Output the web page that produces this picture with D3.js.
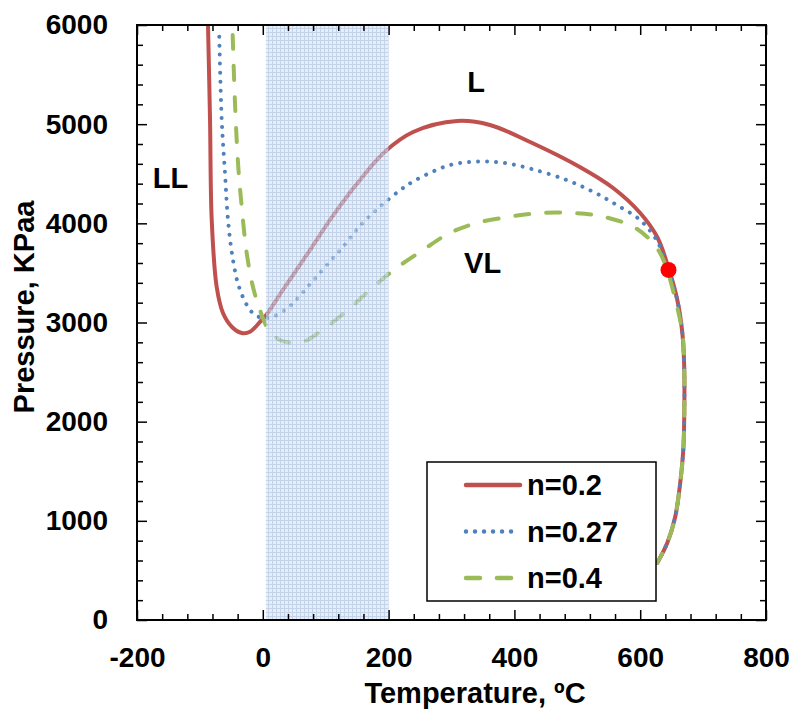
<!DOCTYPE html>
<html>
<head>
<meta charset="utf-8">
<script src="https://cdn.jsdelivr.net/npm/d3@7"></script>
<style>
  body { margin: 0; background: #fff; }
  text { font-family: "Liberation Sans", Arial, sans-serif; font-weight: bold; fill: #000; }
</style>
</head>
<body>
<div id="chart"></div>
<script>
// values
var seriesNames = ["n=0.2", "n=0.27", "n=0.4"];

var tempRed = [-87.1, -83.9, -81.2, -73.3, -63.3, -49, -33.5, -20.3, -1.7, 3.5, 32, 75, 113, 154.5, 194, 239, 309, 361, 425, 504, 557, 600, 627, 644.5, 659, 667, 670, 670, 668.5, 663.6, 655.6, 643, 627];
var presRed = [6000, 5042, 4034, 3358, 3096, 2955, 2894, 2907, 3025, 3058, 3328, 3731, 4090, 4437, 4722, 4921, 5032, 4992, 4820, 4568, 4356, 4104, 3862, 3560, 3227, 2894, 2551, 2047, 1714, 1381, 1039, 776, 575];

var tempBlue = [-69.2, -65.3, -60.1, -55.3, -47.4, -37.8, -23.5, -12.4, 0.3, 14.1, 40, 69.8, 98.9, 127.5, 154.5, 186.3, 220.8, 244.7, 297.6, 340, 382, 427.5, 483, 525, 562.6, 599.7, 626, 639.4, 645.8, 659, 667, 670, 670, 668.5, 663.6, 655.6, 643, 627];
var presBlue = [5882, 5042, 4508, 4034, 3631, 3358, 3156, 3076, 3046, 3055, 3149, 3348, 3560, 3762, 3974, 4168, 4346, 4442, 4588, 4622, 4611, 4548, 4437, 4319, 4185, 4034, 3832, 3630, 3509, 3227, 2894, 2551, 2047, 1714, 1381, 1039, 776, 575];

var tempGreen = [-47.9, -44.2, -39.4, -33.5, -25.6, -15.6, -4.5, 6.2, 11.4, 27.3, 46, 67, 91, 133.4, 170.4, 207, 254.7, 297.6, 340, 393, 440.7, 493, 541, 588.9, 616, 631.6, 642.8, 652, 667, 670, 670, 668.5, 663.6, 655.6, 643, 627];
var presGreen = [5899, 5213, 4608, 4165, 3701, 3358, 3126, 2955, 2904, 2824, 2796, 2813, 2907, 3116, 3328, 3524, 3731, 3903, 4003, 4067, 4104, 4104, 4067, 3966, 3832, 3701, 3529, 3328, 2894, 2551, 2047, 1714, 1381, 1039, 776, 575];

var critT = [645];
var critP = [3530];

var shadeT = [5, 200];

var regionLabels = ["LL", "L", "VL"];
var labelT = [-175, 325, 320];
var labelP = [4356, 5324, 3496];

var xTicks = [-200, 0, 200, 400, 600, 800];
var yTicks = [0, 1000, 2000, 3000, 4000, 5000, 6000];

var width = 793, height = 711;
var margin = { top: 25, right: 27, bottom: 91, left: 137 };

var svg = d3.select("#chart").append("svg")
    .attr("width", width)
    .attr("height", height);

var x = d3.scaleLinear().domain([-200, 800]).range([margin.left, width - margin.right]);
var y = d3.scaleLinear().domain([0, 6000]).range([height - margin.bottom, margin.top]);

var defs = svg.append("defs");
defs.append("clipPath").attr("id", "plotclip")
    .append("rect")
    .attr("x", x(-200)).attr("y", y(6000))
    .attr("width", x(800) - x(-200)).attr("height", y(0) - y(6000));

var pat = defs.append("pattern")
    .attr("id", "grid")
    .attr("width", 4).attr("height", 4)
    .attr("patternUnits", "userSpaceOnUse");
pat.append("rect").attr("width", 4).attr("height", 4).attr("fill", "#d8e3f2");
pat.append("path").attr("d", "M0 0.5H4M0.5 0V4").attr("stroke", "#9fb8dc").attr("stroke-width", 1);

function zipPts(t, p) { return t.map((d, i) => [d, p[i]]); }

var series = [
    { name: seriesNames[0], pts: zipPts(tempRed, presRed), color: "#c0504d", dash: null },
    { name: seriesNames[1], pts: zipPts(tempBlue, presBlue), color: "#4f81bd", dash: "0.01 9" },
    { name: seriesNames[2], pts: zipPts(tempGreen, presGreen), color: "#9bbb59", dash: "14 17" }
];

var line = d3.line()
    .x(d => x(d[0]))
    .y(d => y(d[1]))
    .curve(d3.curveCatmullRom.alpha(0.5));

var plot = svg.append("g").attr("clip-path", "url(#plotclip)");

plot.selectAll("path.series")
    .data(series)
    .enter()
    .append("path")
    .attr("class", "series")
    .attr("d", d => line(d.pts))
    .attr("fill", "none")
    .attr("stroke", d => d.color)
    .attr("stroke-width", 4)
    .attr("stroke-linecap", "round")
    .attr("stroke-linejoin", "round")
    .attr("stroke-dasharray", d => d.dash);

// critical point
plot.selectAll("circle.crit")
    .data(critT)
    .enter()
    .append("circle")
    .attr("class", "crit")
    .attr("cx", d => x(d))
    .attr("cy", (d, i) => y(critP[i]))
    .attr("r", 8)
    .attr("fill", "#ff0000");

// shaded temperature band, drawn over the curves
plot.append("rect")
    .attr("x", x(shadeT[0]))
    .attr("y", y(6000))
    .attr("width", x(shadeT[1]) - x(shadeT[0]))
    .attr("height", y(0) - y(6000))
    .attr("fill", "url(#grid)")
    .attr("opacity", 0.62);

// region labels
svg.selectAll("text.region")
    .data(regionLabels)
    .enter()
    .append("text")
    .attr("class", "region")
    .attr("x", (d, i) => x(labelT[i]))
    .attr("y", (d, i) => y(labelP[i]))
    .style("font-size", "29px")
    .text(d => d);

// axes
var minorX = d3.range(-200, 801, 40).filter(v => v % 200 !== 0);
var minorY = d3.range(0, 6001, 200).filter(v => v % 1000 !== 0);

function styleAxis(g) {
    g.select(".domain").remove();
    g.selectAll("line").attr("stroke", "#000").attr("stroke-width", 1.5);
}

function styleLabels(sel) {
    sel.style("font-size", "28px")
        .style("font-family", "Liberation Sans, Arial, sans-serif")
        .style("font-weight", "bold")
        .attr("fill", "#000");
}

svg.append("g")
    .attr("transform", "translate(0," + y(0) + ")")
    .call(d3.axisBottom(x).tickValues(xTicks).tickFormat(d => String(d)).tickSizeInner(-10).tickSizeOuter(0).tickPadding(27))
    .call(styleAxis)
    .selectAll("text")
    .call(styleLabels);

svg.append("g")
    .attr("transform", "translate(0," + y(0) + ")")
    .call(d3.axisBottom(x).tickValues(minorX).tickSize(-6).tickFormat(""))
    .call(styleAxis);

svg.append("g")
    .attr("transform", "translate(0," + y(6000) + ")")
    .call(d3.axisTop(x).tickValues(xTicks).tickSize(-10).tickFormat(""))
    .call(styleAxis);
svg.append("g")
    .attr("transform", "translate(0," + y(6000) + ")")
    .call(d3.axisTop(x).tickValues(minorX).tickSize(-6).tickFormat(""))
    .call(styleAxis);

svg.append("g")
    .attr("transform", "translate(" + x(-200) + ",0)")
    .call(d3.axisLeft(y).tickValues(yTicks).tickFormat(d => String(d)).tickSizeInner(-10).tickSizeOuter(0).tickPadding(29))
    .call(styleAxis)
    .selectAll("text")
    .call(styleLabels);

svg.append("g")
    .attr("transform", "translate(" + x(-200) + ",0)")
    .call(d3.axisLeft(y).tickValues(minorY).tickSize(-6).tickFormat(""))
    .call(styleAxis);

svg.append("g")
    .attr("transform", "translate(" + x(800) + ",0)")
    .call(d3.axisRight(y).tickValues(yTicks).tickSize(-10).tickFormat(""))
    .call(styleAxis);
svg.append("g")
    .attr("transform", "translate(" + x(800) + ",0)")
    .call(d3.axisRight(y).tickValues(minorY).tickSize(-6).tickFormat(""))
    .call(styleAxis);

// frame
svg.append("rect")
    .attr("x", x(-200)).attr("y", y(6000))
    .attr("width", x(800) - x(-200)).attr("height", y(0) - y(6000))
    .attr("fill", "none")
    .attr("stroke", "#000")
    .attr("stroke-width", 2);

// axis titles
svg.append("text")
    .attr("x", 475)
    .attr("y", 703)
    .style("text-anchor", "middle")
    .style("font-size", "29px")
    .text("Temperature, \u00baC");

svg.append("text")
    .attr("transform", "translate(34,307) rotate(-90)")
    .style("text-anchor", "middle")
    .style("font-size", "29px")
    .text("Pressure, KPaa");

// legend
var legend = svg.append("g");
legend.append("rect")
    .attr("x", 427).attr("y", 462)
    .attr("width", 229).attr("height", 139)
    .attr("fill", "#fff")
    .attr("stroke", "#000")
    .attr("stroke-width", 1.5);

var li = legend.selectAll("g.item")
    .data(series)
    .enter()
    .append("g")
    .attr("class", "item")
    .attr("transform", (d, i) => "translate(0," + (485 + i * 46.5) + ")");

li.append("line")
    .attr("x1", 466).attr("x2", d => d.dash === "14 17" ? 515 : 520)
    .attr("y1", 0).attr("y2", 0)
    .attr("stroke", d => d.color)
    .attr("stroke-width", 4.5)
    .attr("stroke-linecap", "round")
    .attr("stroke-dasharray", d => d.dash);

li.append("text")
    .attr("x", 527)
    .attr("y", 10)
    .style("font-size", "29px")
    .text(d => d.name);
</script>
</body>
</html>
